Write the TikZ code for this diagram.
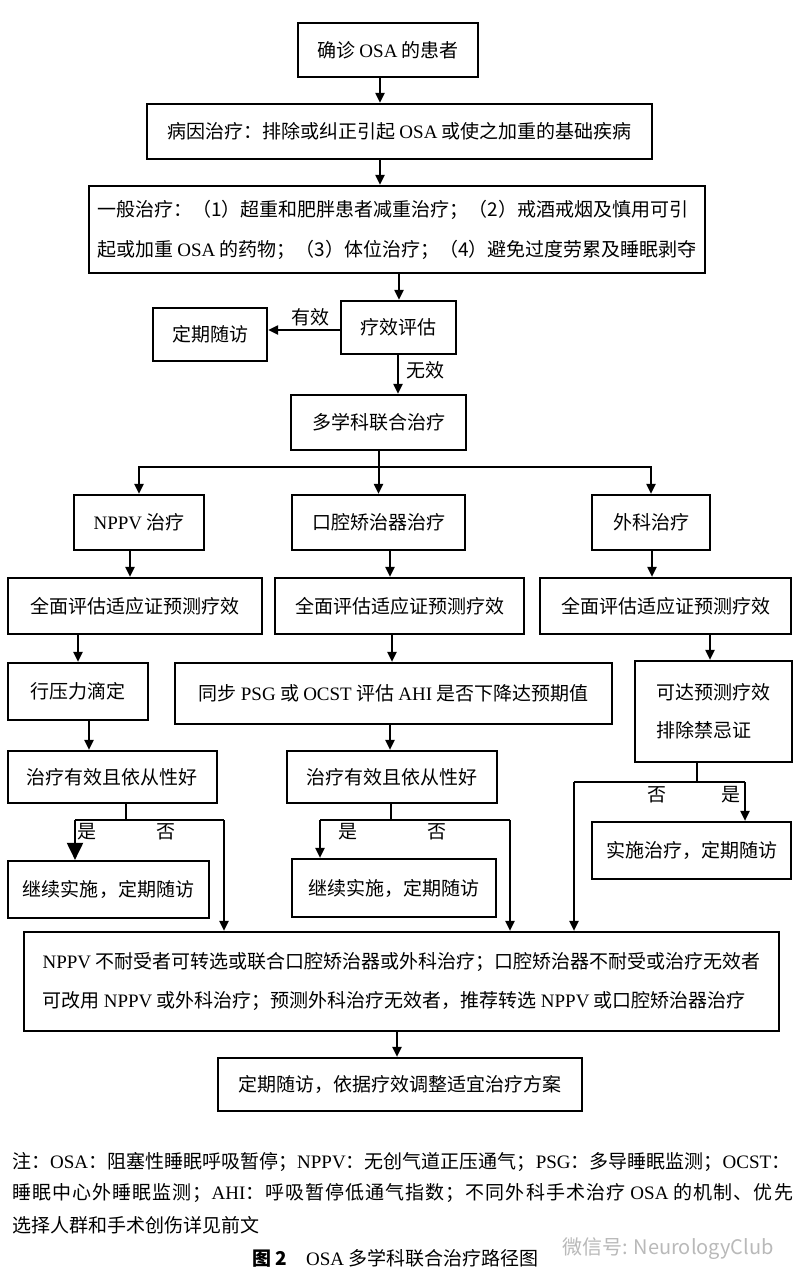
\documentclass[tikz,border=0pt]{standalone}
\usepackage{fontspec}
\setmainfont{Noto Sans CJK SC}
\newfontfamily\timesfont{Liberation Serif}
\newfontfamily\widefont{Noto Sans CJK SC}[LetterSpace=5.5]
\newcommand\ltn[1]{{\timesfont #1}}
\XeTeXlinebreaklocale "zh"
\XeTeXlinebreakskip=0pt plus 2pt
\usetikzlibrary{positioning, arrows.meta}

\begin{document}
\begin{tikzpicture}[
  x=1pt, y=-1pt,
  >={Triangle[length=10pt, width=9pt]},
  every node/.style={font=\fontsize{19pt}{40pt}\selectfont},
  sz/.style 2 args = {minimum width=#1pt, minimum height=#2pt},
  box/.style    = {draw, line width=2.2pt, inner sep=0pt, align=center},
  lbox/.style   = {box, align=left},
  arr/.style    = {->, line width=2pt},
  bigarr/.style = {-{Triangle[length=17pt, width=16pt]}, line width=2pt},
  wire/.style   = {line width=2pt},
  lbl/.style    = {inner sep=0pt},
  note/.style   = {anchor=west, inner sep=0pt},
]
  \fill[white] (0,0) rectangle (810,1287);
  \useasboundingbox (0,0) rectangle (810,1287);

  \node[box, sz={180}{54}]  (start)   at (388,50)      {确诊 \ltn{OSA} 的患者};
  \node[box, sz={505}{55}]  (cause)   at (399.5,131.5) {病因治疗：排除或纠正引起 \ltn{OSA} 或使之加重的基础疾病};
  \node[lbox, sz={616}{87}] (general) at (397,229.5)   {一般治疗：（1）超重和肥胖患者减重治疗；（2）戒酒戒烟及慎用可引\\起或加重 \ltn{OSA} 的药物；（3）体位治疗；（4）避免过度劳累及睡眠剥夺};
  \node[box, sz={115}{53}]  (eval)    at (398.5,327.5) {疗效评估};
  \node[box, sz={114}{53}]  (visit)   at (210,334.5)   {定期随访};
  \node[box, sz={175}{55}]  (multi)   at (378.5,422.5) {多学科联合治疗};

  \node[box, sz={130}{55}]  (nppv)    at (139,522.5)   {\ltn{NPPV} 治疗};
  \node[box, sz={173}{55}]  (oral)    at (378.5,522.5) {口腔矫治器治疗};
  \node[box, sz={118}{55}]  (surg)    at (651,522.5)   {外科治疗};
  \node[box, sz={254}{56}]  (assessA) at (135,606)     {全面评估适应证预测疗效};
  \node[box, sz={249}{56}]  (assessB) at (399.5,606)   {全面评估适应证预测疗效};
  \node[box, sz={251}{56}]  (assessC) at (665.5,606)   {全面评估适应证预测疗效};

  \node[box, sz={140}{57}]  (titrate) at (78,691.5)    {行压力滴定};
  \node[box, sz={437}{61}]  (sync)    at (393.5,693.5) {同步 \ltn{PSG} 或 \ltn{OCST} 评估 \ltn{AHI} 是否下降达预期值};
  \node[lbox, sz={157}{101}, font=\fontsize{19pt}{38pt}\selectfont]
                            (expect)  at (713.5,711.5) {可达预测疗效\\排除禁忌证};
  \node[box, sz={209}{52}]  (goodA)   at (112.5,777)   {治疗有效且依从性好};
  \node[box, sz={210}{52}]  (goodB)   at (392,777)     {治疗有效且依从性好};
  \node[box, sz={201}{57}]  (contA)   at (108.5,889.5) {继续实施，定期随访};
  \node[box, sz={204}{58}]  (contB)   at (394,888)     {继续实施，定期随访};
  \node[box, sz={199}{57}]  (impl)    at (691.5,850.5) {实施治疗，定期随访};

  \node[lbox, sz={755}{99}, font=\fontsize{19pt}{39pt}\selectfont]
                            (switch)  at (401.5,981.5) {\ltn{NPPV} 不耐受者可转选或联合口腔矫治器或外科治疗；口腔矫治器不耐受或治疗无效者\\可改用 \ltn{NPPV} 或外科治疗；预测外科治疗无效者，推荐转选 \ltn{NPPV} 或口腔矫治器治疗};
  \node[box, sz={364}{53}]  (final)   at (400,1084.5)  {定期随访，依据疗效调整适宜治疗方案};

  % straight arrows
  \foreach \a/\b/\x in {start/cause/380, cause/general/380, general/eval/399,
                        eval/multi/398, nppv/assessA/130, oral/assessB/390,
                        surg/assessC/652, assessA/titrate/78, assessB/sync/392,
                        assessC/expect/710, titrate/goodA/89, sync/goodB/390,
                        switch/final/397}
     \draw[arr] (\a.south -| \x,0) -- (\b.north -| \x,0);

  \draw[arr] (eval.west |- 0,330) -- (visit.east |- 0,330);
  \node[lbl] (yes0) at (310,317) {有效};
  \node[lbl] (no0)  at (425,370) {无效};

  % three branches
  \coordinate (fork) at (multi.south |- 0,467);
  \draw[wire] (multi.south) -- (fork);
  \foreach \n in {nppv, oral, surg}
     \draw[arr] (fork) -| (\n.north);

  % yes / no splits
  \coordinate (yesA) at (75,820);  \coordinate (noA) at (224,820);
  \coordinate (yesB) at (320,820); \coordinate (noB) at (510,820);
  \coordinate (noC)  at (574,782); \coordinate (yesC) at (745,782);
  \draw[wire] (goodA.south -| 126,0) -- (126,820);
  \draw[wire] (goodB.south -| 391,0) -- (391,820);
  \draw[wire] (expect.south -| 697,0) -- (697,782);
  \draw[wire] (yesA) -- (noA);
  \draw[wire] (yesB) -- (noB);
  \draw[wire] (noC) -- (yesC);
  \draw[bigarr] (yesA) -- (yesA |- contA.north);
  \draw[arr] (yesB) -- (yesB |- contB.north);
  \draw[arr] (yesC) -- (yesC |- impl.north);
  \foreach \c in {noA, noB, noC}
     \draw[arr] (\c) -- (\c |- switch.north);
  \node[lbl] (yesAl) at (87,832)  {是};
  \node[lbl] (noAl)  at (166,832) {否};
  \node[lbl] (yesBl) at (348,832) {是};
  \node[lbl] (noBl)  at (437,832) {否};
  \node[lbl] (noCl)  at (657,795) {否};
  \node[lbl] (yesCl) at (731,795) {是};

  % note and caption
  \node[note] (note1) at (12,1162) {\makebox[786pt][s]{注：\ltn{OSA}：阻塞性睡眠呼吸暂停；\ltn{NPPV}：无创气道正压通气；\ltn{PSG}：多导睡眠监测；\ltn{OCST}：}};
  \node[note] (note2) at (12,1193) {\widefont 睡眠中心外睡眠监测；\ltn{AHI}：呼吸暂停低通气指数；不同外科手术治疗 \ltn{OSA} 的机制、优先};
  \node[note] (note3) at (12,1225) {选择人群和手术创伤详见前文};
  \node[note] (caption) at (252,1258) {{\bfseries 图 2}\quad\ltn{OSA} 多学科联合治疗路径图};
  \node[note, text=gray!55, font=\fontsize{20pt}{24pt}\selectfont] (wmark) at (562,1249) {微信号: NeurologyClub};
\end{tikzpicture}
\end{document}
